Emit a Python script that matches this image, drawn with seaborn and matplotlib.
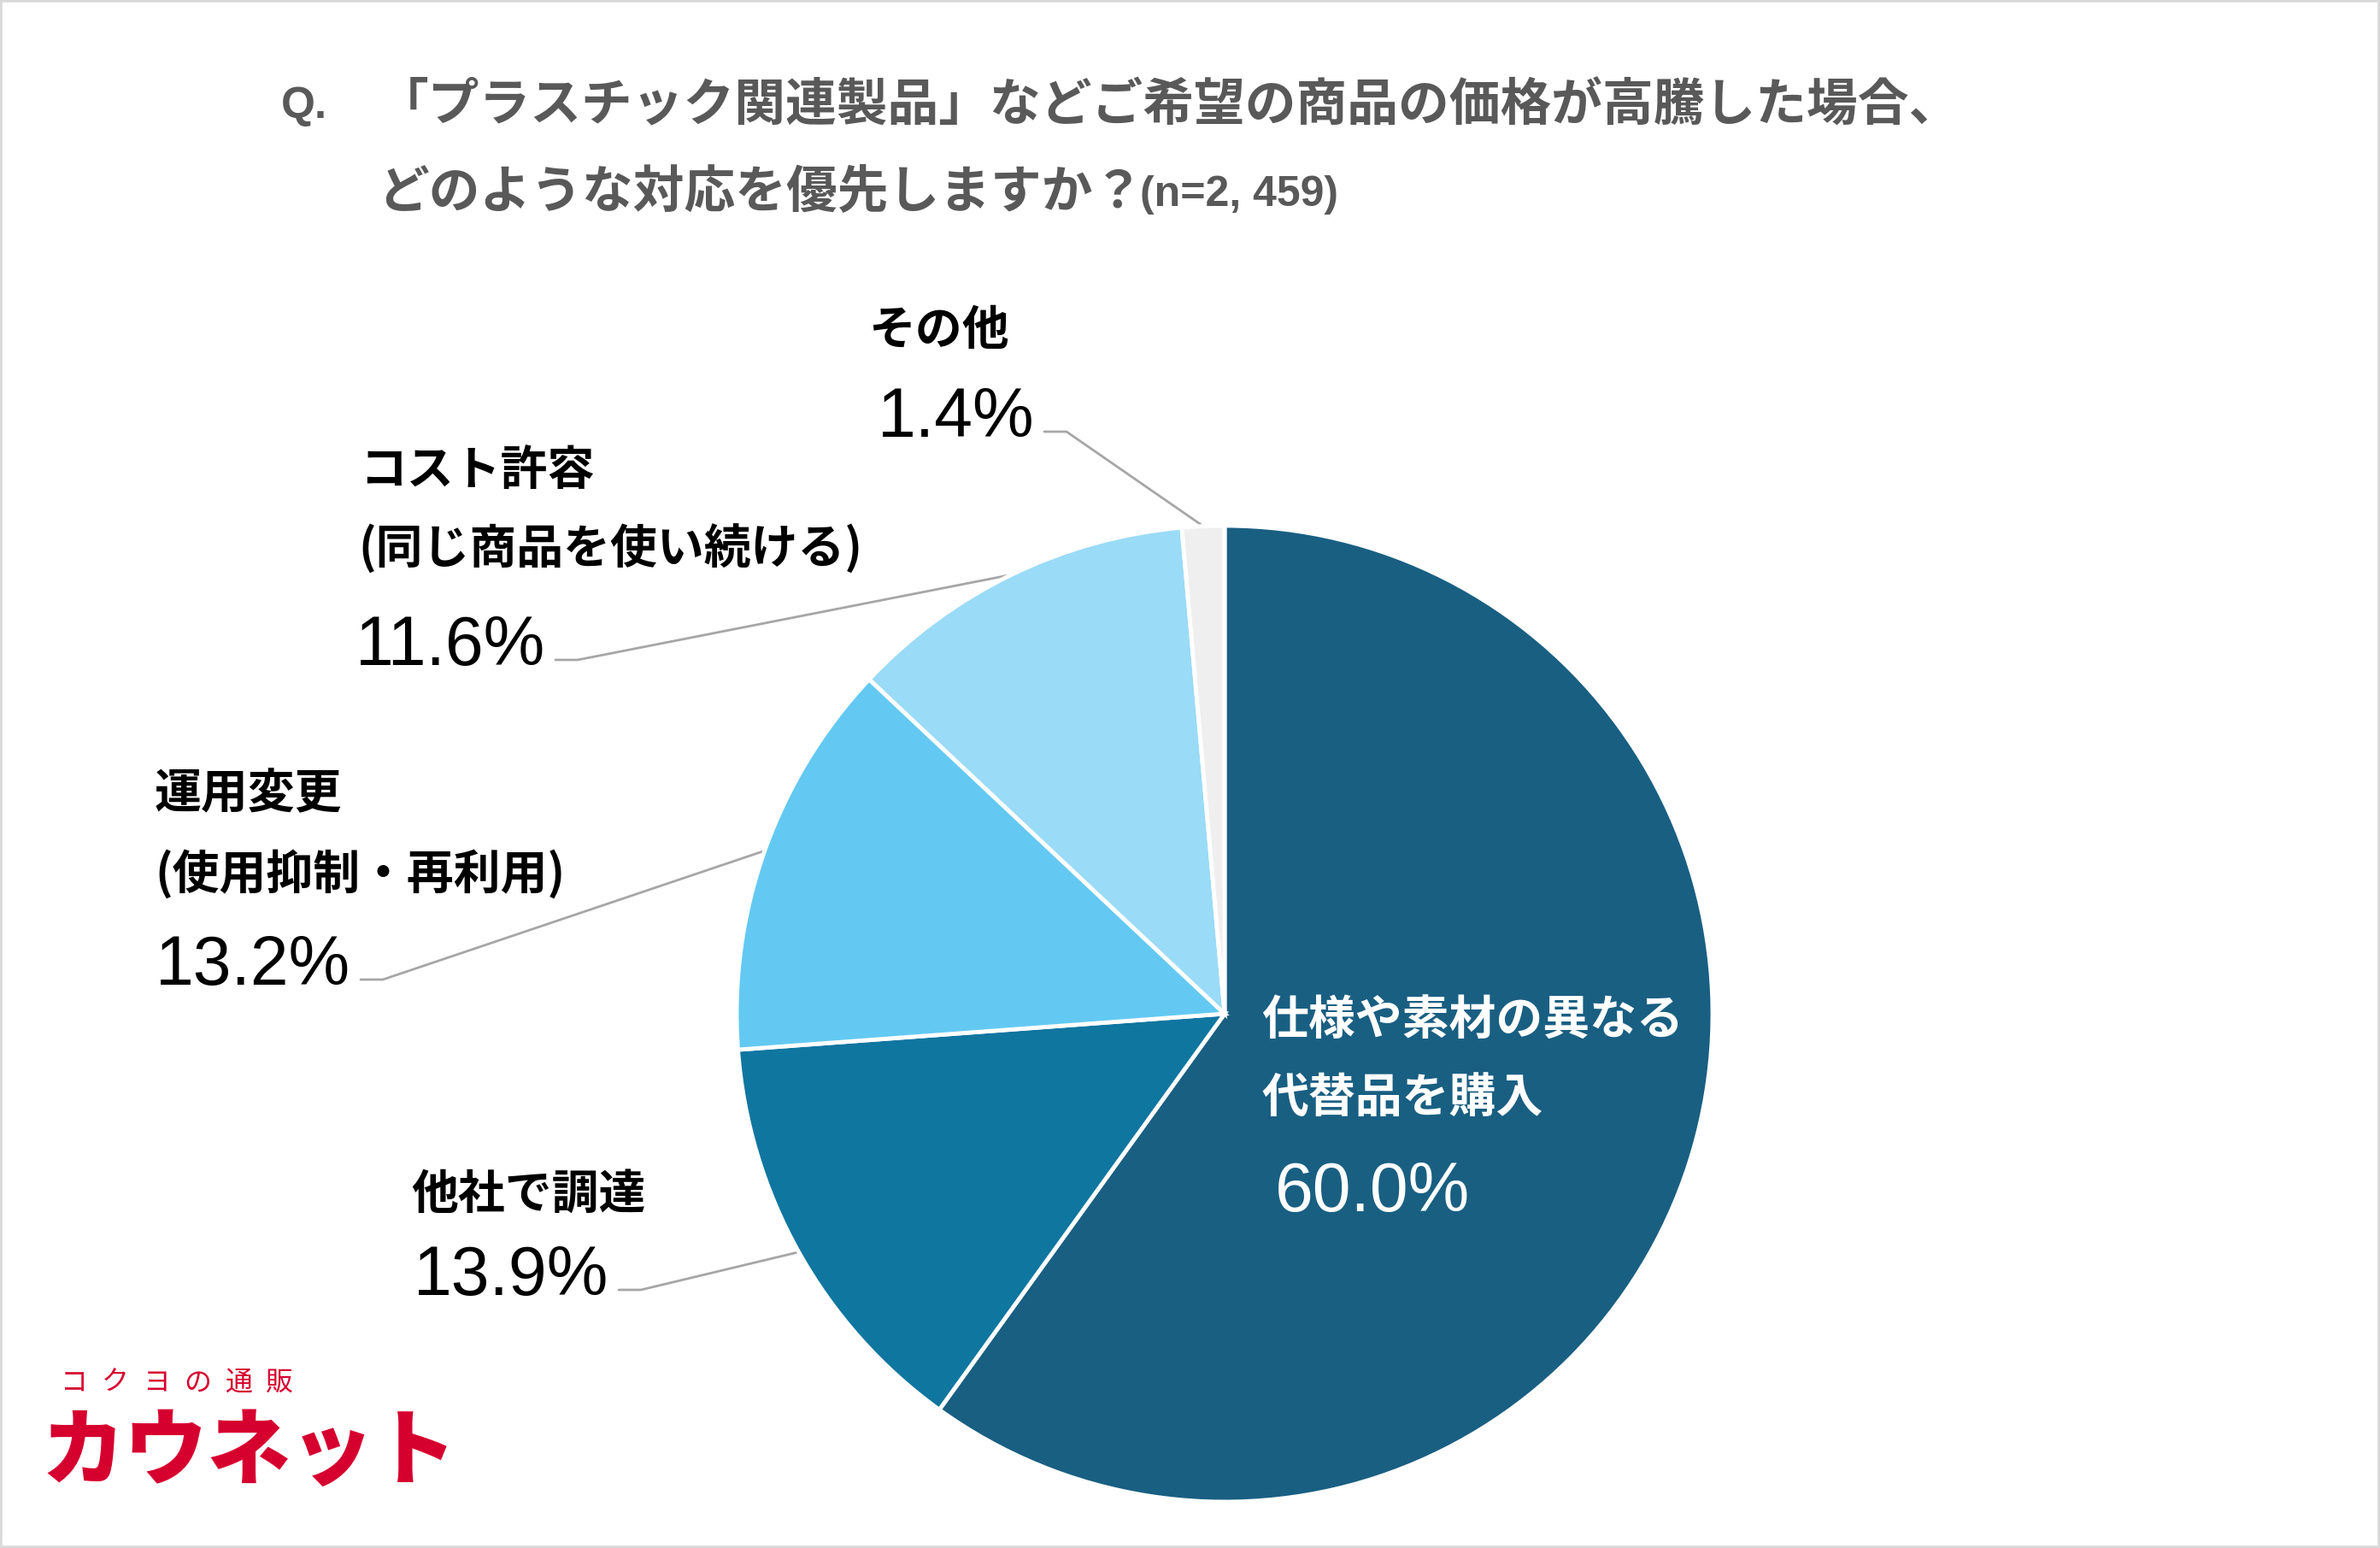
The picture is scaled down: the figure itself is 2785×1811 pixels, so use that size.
import numpy as np
import matplotlib.pyplot as plt
import seaborn as sns
from matplotlib.patches import Rectangle

# %% data
label_lines = [["仕様や素材の異なる", "代替品を購入"],
               ["他社で調達"],
               ["運用変更", "(使用抑制・再利用)"],
               ["コスト許容", "(同じ商品を使い続ける)"],
               ["その他"]]
shares = [60.0, 13.9, 13.2, 11.6, 1.4]
colors = ["#195f82", "#0f76a0", "#63c9f2", "#9adbf7", "#efefef"]

title_q = "Q."
title_line1 = "「プラスチック関連製品」などご希望の商品の価格が高騰した場合、"
title_line2 = "どのような対応を優先しますか？"
title_n = "(n=2, 459)"

# %% style
sns.set_theme(style="white")
jp = ['Noto Sans CJK JP', 'DejaVu Sans']
num = ['Liberation Sans', 'DejaVu Sans']
plt.rcParams['font.family'] = jp

W, H = 2785, 1811
fig = plt.figure(figsize=(W / 100, H / 100), dpi=100)
fig.patch.set_facecolor("white")
ax = fig.add_axes([0, 0, 1, 1])

R = 571          # pixels per unit radius
cx, cy = 1433, 1186


def px(x, y):
    # full-size pixel position -> data coords of the pie axes
    return (x - cx) / R, (cy - y) / R


wedges, _ = ax.pie(shares, colors=colors, startangle=90, counterclock=False,
                   wedgeprops=dict(edgecolor="white", linewidth=3.5))
ax.set_xlim(-cx / R, (W - cx) / R)
ax.set_ylim(-(H - cy) / R, cy / R)
ax.set_aspect("auto")
ax.axis("off")

# %% labels
# (category line positions, percent anchor, percent alignment, text colour)
layout = [
    ([(1476, 1193), (1476, 1285)], (1492, 1417), "left", "white"),
    ([(481, 1397)], (712, 1515), "right", "black"),
    ([(181, 929), (181, 1023)], (410, 1152), "right", "black"),
    ([(421, 550), (419, 643)], (638, 778), "right", "black"),
    ([(1016, 387)], (1210, 511), "right", "black"),
]

for w, lines, share, (line_pos, pct_pos, ha, col) in zip(wedges, label_lines, shares, layout):
    for txt, (x, y) in zip(lines, line_pos):
        tx, ty = px(x, y)
        ax.text(tx, ty, txt, ha="left", va="center", fontsize=39.5,
                fontweight="bold", color=col, family=jp)
    tx, ty = px(*pct_pos)
    ax.text(tx, ty, f"{share:.1f}%", ha=ha, va="baseline", fontsize=58,
            color=col, family=num)
    if ha == "right":
        mid = np.deg2rad((w.theta1 + w.theta2) / 2)
        x0, y0 = px(pct_pos[0] + 12, pct_pos[1] - 6)
        x1 = x0 + 26 / R
        ax.plot([x0, x1, np.cos(mid)], [y0, y0, np.sin(mid)],
                color="#a6a6a6", lw=2, clip_on=False, zorder=0)

# %% title
fig.text(329 / W, 1 - 124 / H, title_q, ha="left", va="center", fontsize=37,
         fontweight="bold", color="#595959", family=num)
fig.text(442 / W, 1 - 124 / H, title_line1, ha="left", va="center", fontsize=43,
         fontweight="bold", color="#595959", family=jp)
fig.text(442 / W, 1 - 226 / H, title_line2, ha="left", va="center", fontsize=43,
         fontweight="bold", color="#595959", family=jp)
fig.text(1334 / W, 1 - 228 / H, title_n, ha="left", va="center", fontsize=36,
         fontweight="bold", color="#595959", family=num)

# %% logo
for i, ch in enumerate("コクヨの通販"):
    fig.text((71 + i * 48) / W, 1 - 1618 / H, ch, ha="left", va="center",
             fontsize=23, color="#d6002f", family=jp)
fig.text(48 / W, 1 - 1700 / H, "カウネット", ha="left", va="center",
         fontsize=70, fontweight="black", color="#d6002f", family=jp)

fig.patches.append(Rectangle((0, 0), 1, 1, transform=fig.transFigure,
                             fill=False, edgecolor="#d9d9d9", lw=4))

fig.savefig("out.png", dpi=100, facecolor="white")
